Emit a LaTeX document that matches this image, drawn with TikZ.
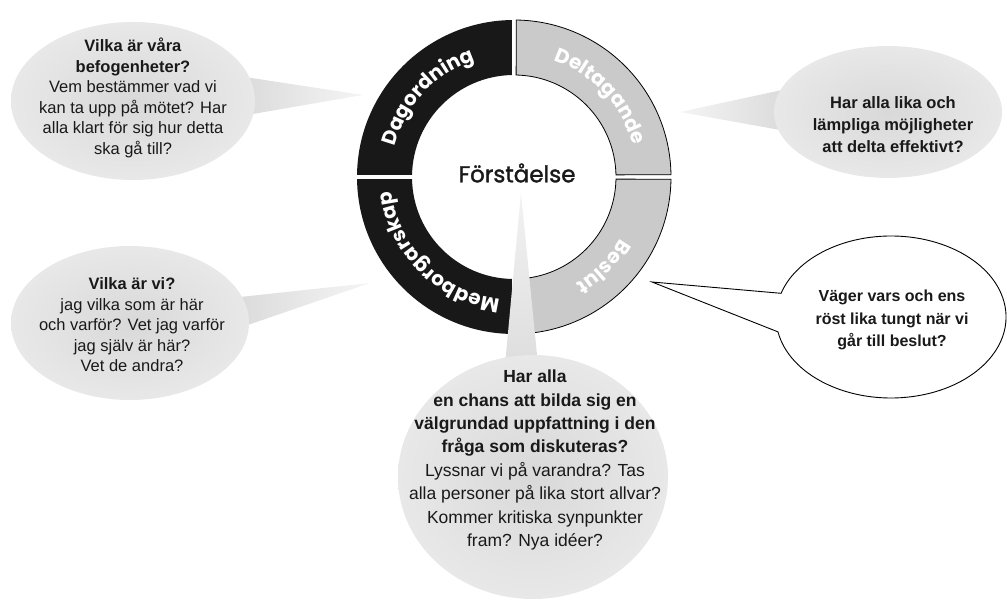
\documentclass[tikz,border=0pt]{standalone}
\usepackage{fontspec}
\setmainfont{Liberation Sans}
\newfontfamily\ringfont{Poppins}
\newfontfamily\corefont{Poppins}[FakeBold=1.6]
\usetikzlibrary{calc, decorations.text}
\definecolor{ringdark}{RGB}{24, 24, 24}
\definecolor{ringlight}{RGB}{202, 202, 202}
\definecolor{inkgray}{RGB}{25, 25, 25}

\tikzset{
  question/.style={align=center, text=inkgray, inner sep=0pt, font=\fontsize{16.5}{20.5}\selectfont},
  ringlabel/.style={decorate, decoration={text along path, text align=center, text color=white}},
  bubble/.style={inner color=gray!30, outer color=gray!18},
}

\begin{document}
\begin{tikzpicture}[x=1pt, y=1pt]
\useasboundingbox (0,0) rectangle (1007,605);
\coordinate (c) at (514,428);

% Speech bubbles
\coordinate (b1) at (133,504);
\coordinate (tip1) at (363,510);
\shade[left color=gray!28, right color=gray!8] ($(b1)+(112,24)$) -- (tip1) -- ($(b1)+(114,-14)$) -- cycle;
\shade[bubble] (b1) ellipse[x radius=122, y radius=79];

\coordinate (b2) at (888,493);
\coordinate (tip2) at (680,493);
\shade[left color=gray!8, right color=gray!28] ($(b2)+(-106,22)$) -- (tip2) -- ($(b2)+(-108,-18)$) -- cycle;
\shade[bubble] (b2) ellipse[x radius=114, y radius=66];

\coordinate (b3) at (130,282);
\coordinate (tip3) at (370,322);
\shade[left color=gray!28, right color=gray!8] ($(b3)+(110,26)$) -- (tip3) -- ($(b3)+(112,-4)$) -- cycle;
\shade[bubble] (b3) ellipse[x radius=119, y radius=77];

\coordinate (b4) at (891,288);
\coordinate (tip4) at (652,323);
\filldraw[fill=white, draw=black, line width=0.9] ($(b4)+(-113,-14.9)$) arc[start angle=190.6, end angle=523, x radius=115, y radius=81] -- (tip4) -- cycle;

% Ring
\foreach \a/\b in {90/180, 180/270}
  \fill[ringdark] ($(c)+({\a+0.8}:157)$) arc[start angle={\a+0.8}, end angle={\b-0.8}, radius=157]
    -- ($(c)+({\b-1.2}:102)$) arc[start angle={\b-1.2}, end angle={\a+1.2}, radius=102] -- cycle;
\foreach \a/\b in {0/90, -90/0}
  \filldraw[fill=ringlight, draw=black, line width=0.8] ($(c)+({\a+0.8}:157)$) arc[start angle={\a+0.8}, end angle={\b-0.8}, radius=157]
    -- ($(c)+({\b-1.2}:102)$) arc[start angle={\b-1.2}, end angle={\a+1.2}, radius=102] -- cycle;

\path[ringlabel, decoration={text={|\ringfont\bfseries\fontsize{20}{20}\selectfont|Dagordning}}]
  ($(c)+(197:123)$) arc[start angle=197, end angle=77, radius=123];
\path[ringlabel, decoration={text={|\ringfont\bfseries\fontsize{20}{20}\selectfont|Deltagande}}]
  ($(c)+(103:123)$) arc[start angle=103, end angle=-17, radius=123];
\path[ringlabel, decoration={text={|\ringfont\bfseries\fontsize{20}{20}\selectfont|Beslut}}]
  ($(c)+(15:123)$) arc[start angle=15, end angle=-105, radius=123];
\path[ringlabel, decoration={text={|\ringfont\bfseries\fontsize{20}{20}\selectfont|Medborgarskap}}]
  ($(c)+(-65:123)$) arc[start angle=-65, end angle=-205, radius=123];

% Bottom bubble, its spike runs over the ring
\coordinate (b5) at (533,128);
\coordinate (tip5) at (521,412);
\shade[bottom color=gray!26, top color=gray!10] ($(b5)+(-28,112)$) -- (tip5) -- ($(b5)+(5,112)$) -- cycle;
\shade[bubble] (b5) ellipse[x radius=135, y radius=122];

\node[font=\corefont\fontsize{23}{23}\selectfont, text=inkgray] (core) at (517,432) {Förståelse};

% Questions
\node[question] (agenda) at (133,507) {\textbf{Vilka är våra}\\\textbf{befogenheter?}\\Vem bestämmer vad vi\\kan ta upp på mötet? Har\\alla klart för sig hur detta\\ska gå till?};
\node[question, font=\bfseries\fontsize{16.5}{22}\selectfont] (takepart) at (893,480) {Har alla lika och\\lämpliga möjligheter\\att delta effektivt?};
\node[question] (who) at (132,280) {\textbf{Vilka är vi?}\\jag vilka som är här\\och varför? Vet jag varför\\jag själv är här?\\Vet de andra?};
\node[question, font=\bfseries\fontsize{16}{22.5}\selectfont] (vote) at (892,285) {Väger vars och ens\\röst lika tungt när vi\\går till beslut?};
\node[question, font=\fontsize{17.5}{23.4}\selectfont] (grasp) at (535,145) {\textbf{Har alla}\\\textbf{en chans att bilda sig en}\\\textbf{välgrundad uppfattning i den}\\\textbf{fråga som diskuteras?}\\Lyssnar vi på varandra? Tas\\alla personer på lika stort allvar?\\Kommer kritiska synpunkter\\fram? Nya idéer?};
\end{tikzpicture}
\end{document}
